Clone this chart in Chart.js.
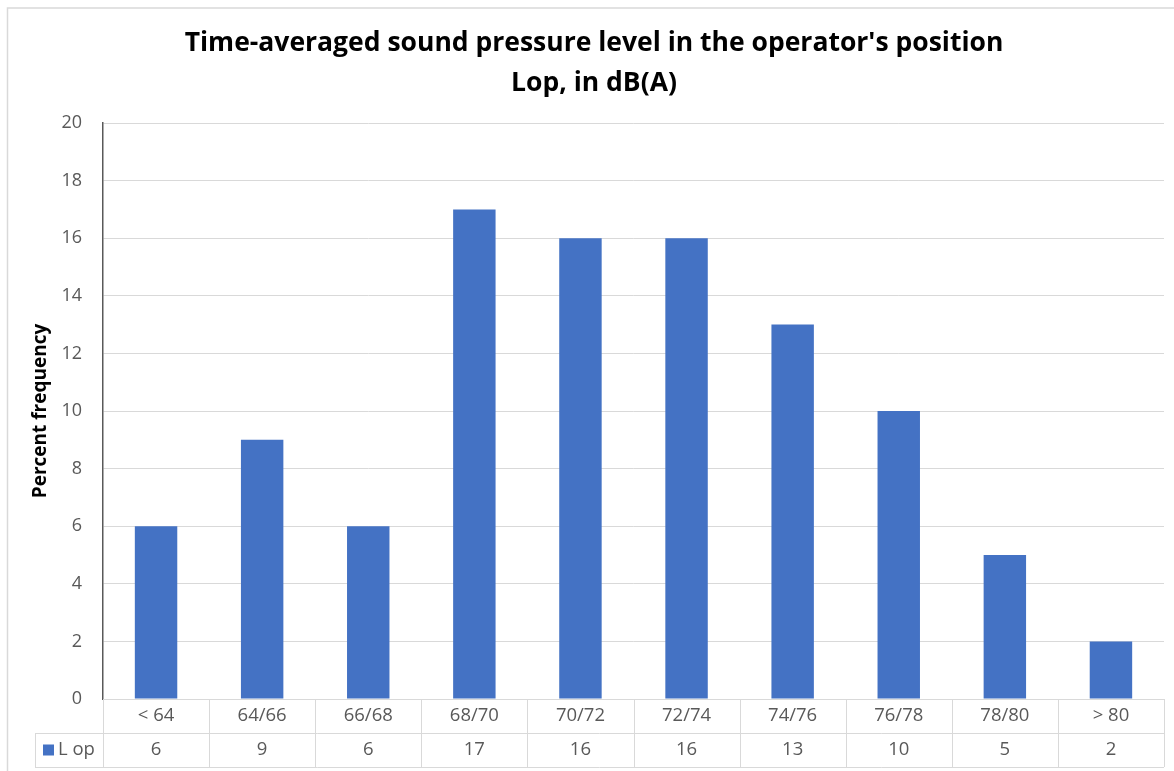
<!DOCTYPE html>
<html>
<head>
<meta charset="utf-8">
<title>Time-averaged sound pressure level</title>
<script src="https://cdn.jsdelivr.net/npm/chart.js@4.4.1/dist/chart.umd.min.js"></script>
<style>
  html, body { margin: 0; padding: 0; background: #ffffff; }
  #wrap { width: 1174px; height: 771px; }
</style>
</head>
<body>
<div id="wrap"><canvas id="chart" width="1174" height="771"></canvas></div>
<script>
// Sound level classes, dB(A)
const categories = ['< 64', '64/66', '66/68', '68/70', '70/72', '72/74', '74/76', '76/78', '78/80', '> 80'];
// Percent frequency per class
const lopValues = [6, 9, 6, 17, 16, 16, 13, 10, 5, 2];
const seriesName = 'L op';
const titleLines = ["Time-averaged sound pressure level in the operator's position", 'Lop, in dB(A)'];
const yAxisTitle = 'Percent frequency';
const yMin = 0, yMax = 20, yStep = 2;

const BAR_COLOR = '#4472C4';
const GRID_COLOR = '#d9d9d9';
const TEXT_COLOR = '#595959';
const FONT = "'Open Sans', 'Liberation Sans', sans-serif";

const ROW_H = 34;          // height of each data-table row
const KEY_LEFT = 35;       // left edge of the legend-key cell
const PAD_LEFT = 24;       // outer left padding
const PLOT_LEFT = 103;     // x of the value axis

// White background plus the thin frame around the chart
const frame = {
  id: 'frame',
  beforeDraw(chart) {
    const ctx = chart.ctx;
    ctx.save();
    ctx.fillStyle = '#ffffff';
    ctx.fillRect(0, 0, chart.width, chart.height);
    ctx.strokeStyle = GRID_COLOR;
    ctx.lineWidth = 1.5;
    ctx.beginPath();
    ctx.moveTo(7.5, chart.height + 5);
    ctx.lineTo(7.5, 8);
    ctx.lineTo(chart.width + 5, 8);
    ctx.stroke();
    ctx.restore();
  }
};

// Data table under the plot: category row, then the value row with its legend key
const dataTable = {
  id: 'dataTable',
  afterDraw(chart) {
    const ctx = chart.ctx;
    const area = chart.chartArea;
    const xs = chart.scales.x;
    const n = categories.length;
    const colW = (area.right - area.left) / n;
    const r0 = area.bottom, r1 = r0 + ROW_H, r2 = r1 + ROW_H;

    ctx.save();
    ctx.strokeStyle = GRID_COLOR;
    ctx.lineWidth = 1;
    ctx.beginPath();
    ctx.moveTo(area.left, r0 + 0.5); ctx.lineTo(area.right, r0 + 0.5);
    ctx.moveTo(KEY_LEFT, r1 + 0.5); ctx.lineTo(area.right, r1 + 0.5);
    ctx.moveTo(KEY_LEFT, r2 + 0.5); ctx.lineTo(area.right, r2 + 0.5);
    ctx.moveTo(KEY_LEFT + 0.5, r1); ctx.lineTo(KEY_LEFT + 0.5, r2);
    for (let i = 0; i <= n; i++) {
      const x = Math.round(xs.getPixelForValue(i) - colW / 2) + 0.5;
      ctx.moveTo(x, r0); ctx.lineTo(x, r2);
    }
    ctx.stroke();

    ctx.fillStyle = TEXT_COLOR;
    ctx.font = '18.5px ' + FONT;
    ctx.textAlign = 'center';
    ctx.textBaseline = 'middle';
    categories.forEach((c, i) => {
      const x = xs.getPixelForValue(i);
      ctx.fillText(c, x, (r0 + r1) / 2);
      ctx.fillText(String(chart.data.datasets[0].data[i]), x, (r1 + r2) / 2);
    });

    // legend key
    const ky = (r1 + r2) / 2;
    ctx.fillStyle = BAR_COLOR;
    ctx.fillRect(43, ky - 5.5, 11, 11);
    ctx.fillStyle = TEXT_COLOR;
    ctx.textAlign = 'left';
    ctx.fillText(seriesName, 58, ky);
    ctx.restore();
  }
};

new Chart(document.getElementById('chart'), {
  type: 'bar',
  data: {
    labels: categories,
    datasets: [{
      label: seriesName,
      data: lopValues,
      backgroundColor: BAR_COLOR,
      categoryPercentage: 1,
      barPercentage: 0.4
    }]
  },
  options: {
    responsive: false,
    animation: false,
    layout: { padding: { left: PAD_LEFT, right: 10, top: 0, bottom: ROW_H * 2 + 4 } },
    plugins: {
      legend: { display: false },
      tooltip: { enabled: false },
      title: {
        display: true,
        text: titleLines,
        color: '#000000',
        font: { family: FONT, size: 26.5, weight: 'bold', lineHeight: 1.5 },
        padding: { top: 24, bottom: 19.5 }
      }
    },
    scales: {
      x: {
        display: false
      },
      y: {
        min: yMin,
        max: yMax,
        ticks: {
          stepSize: yStep,
          color: TEXT_COLOR,
          font: { family: FONT, size: 18 },
          padding: 21
        },
        grid: { color: GRID_COLOR, drawTicks: false, lineWidth: 1 },
        border: { color: '#595959', width: 1.5 },
        title: {
          display: true,
          text: yAxisTitle,
          color: '#000000',
          font: { family: FONT, size: 19, weight: 'bold' },
          padding: { top: 29 - PAD_LEFT, bottom: 0 }
        },
        afterFit(scale) { scale.width = PLOT_LEFT - PAD_LEFT; }
      }
    }
  },
  plugins: [frame, dataTable]
});
</script>
</body>
</html>
